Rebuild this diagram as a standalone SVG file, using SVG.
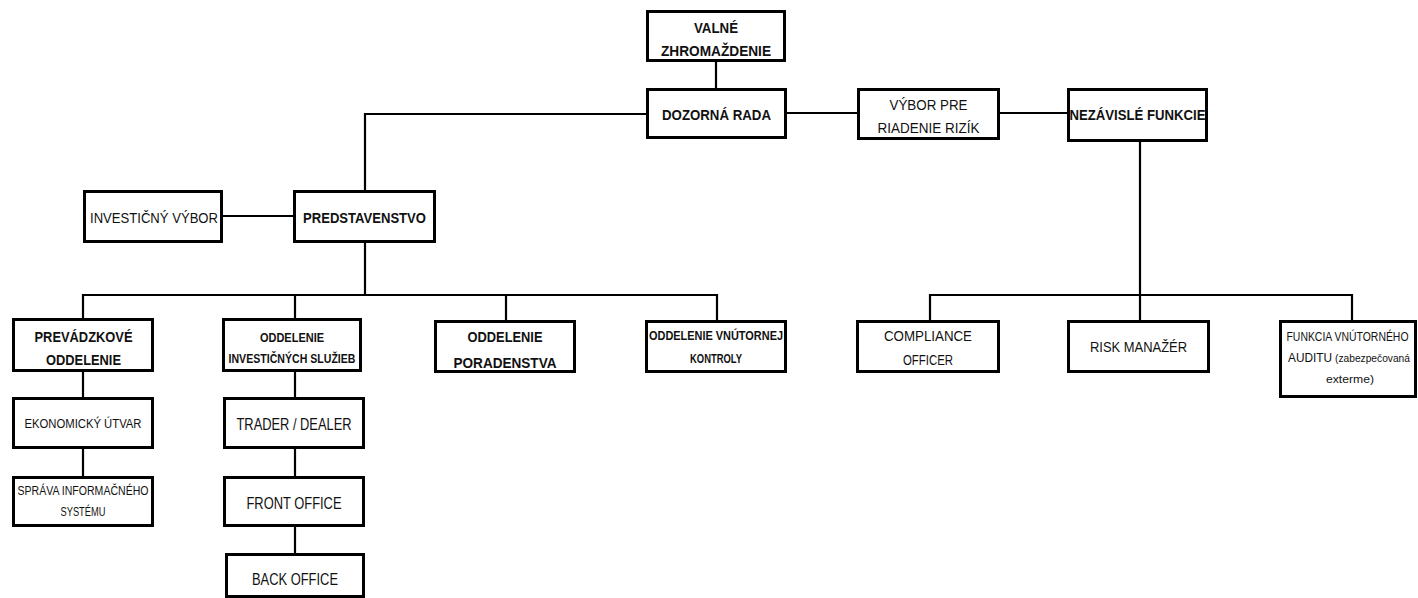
<svg xmlns="http://www.w3.org/2000/svg" width="1418" height="598" viewBox="0 0 1418 598">
<style>
.box{fill:#fff;stroke:#000;stroke-width:3}
.con{fill:none;stroke:#000;stroke-width:2.2}
text{font-family:"Liberation Sans",Arial,sans-serif;fill:#111;text-anchor:middle}
.b{font-weight:bold;font-size:15px}
.r{font-size:15px}
.sb{font-weight:bold;font-size:12px}
.s{font-size:12px}
.m{font-size:16px}
</style>
<rect width="1418" height="598" fill="#fff"/>
<g id="connectors">
<path class="con" d="M716 62V88"/>
<path class="con" d="M787 113H857"/>
<path class="con" d="M1000 113H1067"/>
<path class="con" d="M646 114H365V190"/>
<path class="con" d="M223 216H293"/>
<path class="con" d="M365 243V295"/>
<path class="con" d="M83 320V295H717V320"/>
<path class="con" d="M295 295V320"/>
<path class="con" d="M506 295V320"/>
<path class="con" d="M83 372V397"/>
<path class="con" d="M83 449V476"/>
<path class="con" d="M295 372V397"/>
<path class="con" d="M295 449V476"/>
<path class="con" d="M295 527V553"/>
<path class="con" d="M1140 142V295"/>
<path class="con" d="M930 320V295H1352V320"/>
<path class="con" d="M1140 295V320"/>
</g>
<g id="valne">
<rect class="box" x="647.5" y="11.5" width="137" height="49"/>
<text class="b" x="716" y="33" textLength="44" lengthAdjust="spacingAndGlyphs">VALNÉ</text>
<text class="b" x="716" y="56" textLength="110" lengthAdjust="spacingAndGlyphs">ZHROMAŽDENIE</text>
</g>
<g id="dozorna">
<rect class="box" x="647.5" y="89.5" width="138" height="48"/>
<text class="b" x="716.5" y="120" textLength="109" lengthAdjust="spacingAndGlyphs">DOZORNÁ RADA</text>
</g>
<g id="vybor-rizik">
<rect class="box" x="858.5" y="89.5" width="140" height="49"/>
<text class="r" x="928.5" y="110" textLength="78" lengthAdjust="spacingAndGlyphs">VÝBOR PRE</text>
<text class="r" x="928.5" y="133" textLength="102" lengthAdjust="spacingAndGlyphs">RIADENIE RIZÍK</text>
</g>
<g id="nezavisle">
<rect class="box" x="1068.5" y="89.5" width="138" height="51"/>
<text class="b" x="1137.5" y="120" textLength="136" lengthAdjust="spacingAndGlyphs">NEZÁVISLÉ FUNKCIE</text>
</g>
<g id="investicny-vybor">
<rect class="box" x="84.5" y="191.5" width="137" height="50"/>
<text class="r" x="154" y="223" textLength="128" lengthAdjust="spacingAndGlyphs">INVESTIČNÝ VÝBOR</text>
</g>
<g id="predstavenstvo">
<rect class="box" x="294.5" y="191.5" width="140" height="50"/>
<text class="b" x="364.5" y="223" textLength="123" lengthAdjust="spacingAndGlyphs">PREDSTAVENSTVO</text>
</g>
<g id="prevadzkove">
<rect class="box" x="13.5" y="319.5" width="139" height="51"/>
<text class="b" x="83.5" y="342" textLength="98" lengthAdjust="spacingAndGlyphs">PREVÁDZKOVÉ</text>
<text class="b" x="83.5" y="365" textLength="75" lengthAdjust="spacingAndGlyphs">ODDELENIE</text>
</g>
<g id="investicne-sluzby">
<rect class="box" x="223.5" y="319.5" width="137" height="51"/>
<text class="sb" x="292" y="342" textLength="64" lengthAdjust="spacingAndGlyphs">ODDELENIE</text>
<text class="sb" x="292" y="363" textLength="127" lengthAdjust="spacingAndGlyphs">INVESTIČNÝCH SLUŽIEB</text>
</g>
<g id="poradenstvo">
<rect class="box" x="435.5" y="321.5" width="139" height="50"/>
<text class="b" x="505" y="342" textLength="75" lengthAdjust="spacingAndGlyphs">ODDELENIE</text>
<text class="b" x="505" y="368" textLength="103" lengthAdjust="spacingAndGlyphs">PORADENSTVA</text>
</g>
<g id="vnutorna-kontrola">
<rect class="box" x="646.5" y="321.5" width="139" height="50"/>
<text class="sb" x="716" y="340" textLength="134" lengthAdjust="spacingAndGlyphs">ODDELENIE VNÚTORNEJ</text>
<text class="sb" x="716" y="363" textLength="52" lengthAdjust="spacingAndGlyphs">KONTROLY</text>
</g>
<g id="ekonomicky">
<rect class="box" x="13.5" y="398.5" width="139" height="49"/>
<text class="s" x="83" y="428" textLength="117" lengthAdjust="spacingAndGlyphs">EKONOMICKÝ ÚTVAR</text>
</g>
<g id="sprava-is">
<rect class="box" x="13.5" y="477.5" width="139" height="48"/>
<text class="s" x="83" y="495" textLength="131" lengthAdjust="spacingAndGlyphs">SPRÁVA INFORMAČNÉHO</text>
<text class="s" x="83" y="516" textLength="45" lengthAdjust="spacingAndGlyphs">SYSTÉMU</text>
</g>
<g id="trader">
<rect class="box" x="224.5" y="398.5" width="139" height="49"/>
<text class="m" x="294" y="430" textLength="115" lengthAdjust="spacingAndGlyphs">TRADER / DEALER</text>
</g>
<g id="front-office">
<rect class="box" x="224.5" y="477.5" width="139" height="48"/>
<text class="m" x="294" y="509" textLength="95" lengthAdjust="spacingAndGlyphs">FRONT OFFICE</text>
</g>
<g id="back-office">
<rect class="box" x="226.5" y="554.5" width="137" height="42"/>
<text class="m" x="295" y="585" textLength="86" lengthAdjust="spacingAndGlyphs">BACK OFFICE</text>
</g>
<g id="compliance">
<rect class="box" x="857.5" y="321.5" width="141" height="50"/>
<text class="r" x="928" y="341" textLength="88" lengthAdjust="spacingAndGlyphs">COMPLIANCE</text>
<text class="r" x="928" y="365" textLength="50" lengthAdjust="spacingAndGlyphs">OFFICER</text>
</g>
<g id="risk-manazer">
<rect class="box" x="1068.5" y="321.5" width="140" height="50"/>
<text class="r" x="1138.5" y="352" textLength="97" lengthAdjust="spacingAndGlyphs">RISK MANAŽÉR</text>
</g>
<g id="audit">
<rect class="box" x="1280.5" y="321.5" width="135" height="75"/>
<text style="font-size:12.5px" x="1347.5" y="341" textLength="122" lengthAdjust="spacingAndGlyphs">FUNKCIA VNÚTORNÉHO</text>
<text style="font-size:13px;text-anchor:start" x="1288" y="362" textLength="44" lengthAdjust="spacingAndGlyphs">AUDITU</text>
<text style="font-size:11px;text-anchor:start" x="1335" y="362" textLength="75" lengthAdjust="spacingAndGlyphs">(zabezpečovaná</text>
<text style="font-size:11px" x="1350" y="383" textLength="48" lengthAdjust="spacingAndGlyphs">exterme)</text>
</g>
</svg>
